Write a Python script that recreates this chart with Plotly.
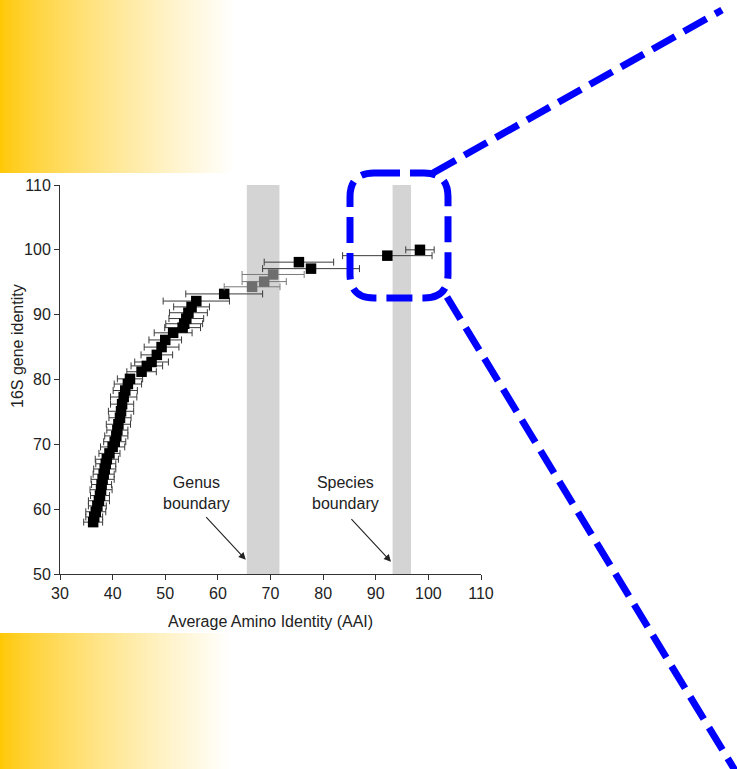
import plotly.graph_objects as go

# 16S identity against average amino-acid identity (AAI), black points
aai_black = [36.3, 36.5, 36.8, 37.1, 37.4, 37.6, 37.8, 37.9, 38.1, 38.3,
             38.5, 38.7, 38.9, 39.4, 40.0, 40.4, 40.7, 40.9, 41.1, 41.4,
             41.6, 41.8, 42.1, 42.4, 42.9, 43.3, 45.5, 46.5, 47.4, 48.4,
             49.3, 50.0, 51.5, 53.3, 53.6, 54.0, 54.4, 55.0, 55.9, 61.2,
             75.4, 77.7, 92.2, 98.4]
s16_black = [58.0, 58.8, 59.6, 60.5, 61.3, 62.1, 63.0, 63.8, 64.6, 65.4,
             66.2, 67.0, 67.7, 68.6, 69.6, 70.4, 71.3, 72.2, 73.1, 74.1,
             75.1, 76.2, 77.3, 78.3, 79.3, 80.1, 81.2, 82.1, 82.7, 83.8,
             85.0, 86.1, 87.2, 88.0, 88.6, 89.4, 90.3, 91.2, 92.1, 93.2,
             98.1, 97.1, 99.1, 100.0]
err_black = [1.8, 1.6, 1.9, 1.7, 2.0, 1.8, 2.1, 1.9, 2.2, 2.0,
             2.1, 1.9, 2.2, 2.0, 2.3, 2.1, 2.2, 2.0, 2.3, 2.1,
             2.4, 2.2, 2.5, 2.3, 2.6, 2.4, 2.8, 3.0, 3.2, 3.0,
             3.3, 3.1, 3.6, 3.4, 3.5, 3.3, 3.6, 3.4, 6.3, 7.3,
             6.6, 9.2, 8.5, 2.7]

# grey points inside the genus boundary
aai_gray = [66.5, 68.8, 70.5]
s16_gray = [94.3, 95.1, 96.2]
err_gray = [5.3, 4.2, 5.9]

genus_band = (65.5, 71.7)
species_band = (93.2, 96.7)

x_ticks = [30, 40, 50, 60, 70, 80, 90, 100, 110]
y_ticks = [50, 60, 70, 80, 90, 100, 110]

x_title = "Average Amino Identity (AAI)"
y_title = "16S gene identity"
genus_label = "Genus<br>boundary"
species_label = "Species<br>boundary"

W, H = 737, 769
L, R, T, B = 60, 481, 185, 574   # plot area edges in pixels
FONT = "Liberation Sans, Arial, Helvetica, sans-serif"
TXT = "#222222"


def px(x):
    return (x - L) / (R - L)


def py(y):
    return (B - y) / (B - T)


fig = go.Figure()

fig.add_trace(go.Scatter(
    x=aai_black, y=s16_black, mode="markers",
    marker=dict(symbol="square", size=10.5, color="#000000"),
    error_x=dict(type="data", array=err_black, color="#3a3a3a",
                 thickness=1, width=3.5),
    showlegend=False, hoverinfo="x+y"))

fig.add_trace(go.Scatter(
    x=aai_gray, y=s16_gray, mode="markers",
    marker=dict(symbol="square", size=10.5, color="#6e6e6e"),
    error_x=dict(type="data", array=err_gray, color="#7a7a7a",
                 thickness=1, width=3.5),
    showlegend=False, hoverinfo="x+y"))

shapes = []

# boundary bands
for lo, hi in (genus_band, species_band):
    shapes.append(dict(type="rect", xref="x", yref="y", x0=lo, x1=hi,
                       y0=y_ticks[0], y1=y_ticks[-1], layer="below",
                       fillcolor="#d4d4d4", line=dict(width=0)))


# yellow-to-white gradient panels on the left edge
def gradient(y0, y1, fade):
    step = 2
    for i in range(0, fade, step):
        t = min(1.0, ((i + step) / fade) ** 0.75)
        g = round(198 + (255 - 198) * t)
        b = round(255 * t)
        shapes.append(dict(type="rect", xref="paper", yref="paper",
                           x0=px(i), x1=px(i + step + 0.6),
                           y0=py(y1), y1=py(y0), layer="below",
                           fillcolor=f"rgb(255,{g},{b})",
                           line=dict(width=0)))


gradient(0, 173, 236)
gradient(633, 769, 232)

# dashed rounded callout box and its two leader lines
blue = dict(color="#0000ff", width=7, dash="26px,10px")
x0, x1, y0, y1, r = 350, 448, 173, 298, 24
pts = [("M", x0 + r, y0), ("L", x1 - r, y0), ("Q", x1, y0, x1, y0 + r),
       ("L", x1, y1 - r), ("Q", x1, y1, x1 - r, y1), ("L", x0 + r, y1),
       ("Q", x0, y1, x0, y1 - r), ("L", x0, y0 + r), ("Q", x0, y0, x0 + r, y0)]
path = ""
for p in pts:
    cmd, coords = p[0], p[1:]
    pairs = [f"{px(coords[k]):.5f},{py(coords[k + 1]):.5f}"
             for k in range(0, len(coords), 2)]
    path += cmd + " ".join(pairs) + " "
path += "Z"
shapes.append(dict(type="path", xref="paper", yref="paper", path=path,
                   line=blue, layer="above"))
shapes.append(dict(type="line", xref="paper", yref="paper",
                   x0=px(433), y0=py(173), x1=px(722), y1=py(10),
                   line=blue, layer="above"))
shapes.append(dict(type="line", xref="paper", yref="paper",
                   x0=px(447), y0=py(297), x1=px(736), y1=py(772),
                   line=blue, layer="above"))

annotations = [
    dict(text=genus_label, x=56.0, y=62.5, xref="x", yref="y",
         showarrow=False, align="center",
         font=dict(size=16, color=TXT, family=FONT)),
    dict(text=species_label, x=84.2, y=62.5, xref="x", yref="y",
         showarrow=False, align="center",
         font=dict(size=16, color=TXT, family=FONT)),
    dict(text="", x=65.3, y=52.2, xref="x", yref="y", showarrow=True,
         ax=-41, ay=-44, arrowhead=2, arrowsize=1.3, arrowwidth=1.1,
         arrowcolor=TXT, standoff=0),
    dict(text="", x=92.9, y=51.9, xref="x", yref="y", showarrow=True,
         ax=-41, ay=-44, arrowhead=2, arrowsize=1.3, arrowwidth=1.1,
         arrowcolor=TXT, standoff=0),
    dict(text=x_title, x=px(270), y=py(621), xref="paper", yref="paper",
         showarrow=False, xanchor="center", yanchor="middle",
         font=dict(size=16, color=TXT, family=FONT)),
    dict(text=y_title, x=px(17), y=py(346), xref="paper", yref="paper",
         showarrow=False, xanchor="center", yanchor="middle", textangle=-90,
         font=dict(size=16, color=TXT, family=FONT)),
]

axis_common = dict(showline=True, linecolor="#333333", linewidth=1,
                   ticks="outside", ticklen=5, tickcolor="#333333",
                   tickwidth=1, showgrid=False, zeroline=False,
                   tickfont=dict(size=16, color=TXT, family=FONT))

fig.update_layout(
    width=W, height=H,
    margin=dict(l=L, r=W - R, t=T, b=H - B, pad=0),
    paper_bgcolor="white", plot_bgcolor="white",
    xaxis=dict(range=[x_ticks[0], x_ticks[-1]], tickvals=x_ticks,
               **axis_common),
    yaxis=dict(range=[y_ticks[0], y_ticks[-1]], tickvals=y_ticks,
               **axis_common),
    shapes=shapes, annotations=annotations, showlegend=False,
    font=dict(family=FONT, color=TXT),
)

fig.write_html("out.html")
